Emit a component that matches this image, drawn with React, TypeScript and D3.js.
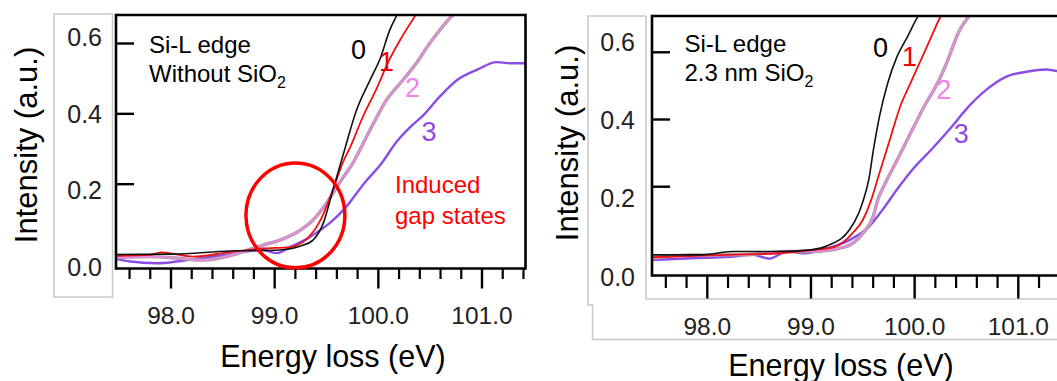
import React from 'react';
import * as d3 from 'd3';

const W = 1057;
const H = 381;

// ---------- Data: left panel (Without SiO2) ----------
const L0_E = [97.47, 98.0, 98.57, 99.05, 99.25, 99.37, 99.47, 99.56, 99.66, 99.79, 99.92, 100.02, 100.11, 100.18, 100.25];
const L0_I = [0.0, 0.001, 0.01, 0.013, 0.024, 0.041, 0.09, 0.181, 0.283, 0.411, 0.496, 0.559, 0.638, 0.681, 0.72];
const L1_E = [97.47, 97.8, 97.91, 98.04, 98.21, 98.57, 98.89, 99.15, 99.37, 99.47, 99.56, 99.66, 99.73, 99.85, 99.99, 100.09, 100.21, 100.31, 100.36, 100.42];
const L1_I = [-0.004, -0.001, 0.006, 0.001, -0.006, 0.007, 0.017, 0.021, 0.064, 0.115, 0.183, 0.263, 0.306, 0.391, 0.476, 0.544, 0.61, 0.658, 0.681, 0.71];
const L2_E = [97.47, 97.8, 98.04, 98.31, 98.61, 98.89, 99.05, 99.22, 99.37, 99.5, 99.63, 99.76, 99.92, 100.08, 100.24, 100.37, 100.47, 100.57, 100.72, 100.8];
const L2_I = [-0.009, -0.006, -0.01, -0.016, 0.0, 0.027, 0.041, 0.064, 0.098, 0.146, 0.206, 0.263, 0.354, 0.44, 0.497, 0.545, 0.59, 0.63, 0.681, 0.7];
const L3_E = [97.47, 97.61, 97.86, 98.21, 98.61, 98.89, 99.02, 99.14, 99.34, 99.53, 99.68, 99.87, 100.02, 100.18, 100.31, 100.43, 100.59, 100.76, 100.95, 101.14, 101.27, 101.43];
const L3_I = [-0.013, -0.02, -0.025, -0.014, 0.003, 0.013, 0.004, 0.02, 0.05, 0.089, 0.132, 0.205, 0.255, 0.322, 0.363, 0.395, 0.448, 0.496, 0.525, 0.547, 0.544, 0.544];

// ---------- Data: right panel (2.3 nm SiO2) ----------
const R0_E = [97.47, 97.94, 98.24, 98.67, 99.0, 99.17, 99.37, 99.46, 99.51, 99.56, 99.6, 99.66, 99.74, 99.83, 99.93, 100.03, 100.08];
const R0_I = [-0.003, -0.003, 0.007, 0.007, 0.012, 0.026, 0.071, 0.121, 0.165, 0.225, 0.305, 0.408, 0.508, 0.587, 0.646, 0.706, 0.73];
const R1_E = [97.47, 98.18, 98.7, 99.03, 99.23, 99.4, 99.5, 99.58, 99.66, 99.76, 99.86, 99.96, 100.06, 100.16, 100.25, 100.3];
const R1_I = [-0.01, -0.003, 0.002, 0.012, 0.021, 0.061, 0.101, 0.16, 0.24, 0.339, 0.438, 0.508, 0.577, 0.646, 0.706, 0.73];
const R2_E = [97.47, 97.84, 98.32, 98.77, 99.0, 99.33, 99.5, 99.6, 99.65, 99.7, 99.83, 99.96, 100.09, 100.22, 100.32, 100.42, 100.52, 100.58];
const R2_I = [-0.013, -0.003, -0.003, 0.007, 0.007, 0.021, 0.061, 0.111, 0.166, 0.2, 0.279, 0.359, 0.438, 0.508, 0.577, 0.657, 0.706, 0.73];
const R3_E = [97.47, 97.84, 98.22, 98.44, 98.6, 98.77, 98.93, 99.16, 99.37, 99.56, 99.69, 99.84, 99.99, 100.16, 100.36, 100.49, 100.69, 100.88, 101.08, 101.27, 101.4];
const R3_I = [-0.018, -0.013, -0.009, -0.003, -0.014, 0.007, 0.002, 0.017, 0.041, 0.081, 0.131, 0.196, 0.255, 0.31, 0.379, 0.428, 0.488, 0.527, 0.542, 0.549, 0.542];

// ---------- Ticks ----------
const Y_TICKS = [0.2, 0.4, 0.6];
const Y_LABELS = [0.0, 0.2, 0.4, 0.6];
const X_MAJOR = [98.0, 99.0, 100.0, 101.0];
const X_MINOR = [97.6, 97.8, 98.2, 98.4, 98.6, 98.8, 99.2, 99.4, 99.6, 99.8, 100.2, 100.4, 100.6, 100.8, 101.2, 101.4];

const SERIES_NAMES = ['0', '1', '2', '3'];
// label anchor (energy, intensity) for curve numbers
const L_LABEL_E = [99.81, 100.08, 100.33, 100.49];
const L_LABEL_I = [0.582, 0.548, 0.474, 0.349];
const R_LABEL_E = [99.67, 99.95, 100.28, 100.45];
const R_LABEL_I = [0.612, 0.587, 0.487, 0.358];

const COLORS = ['#111111', '#ee1111', '#f08ae4', '#8a4de6'];
const LABEL_COLORS = ['#000000', '#ee0000', '#f57ff0', '#9048e8'];

// induced gap states circle (data units)
const CIRCLE_E = 99.2;
const CIRCLE_I = 0.111;
const CIRCLE_RE = 0.477;
const CIRCLE_RI = 0.149;

const FONT = "'Liberation Sans', Arial, sans-serif";

type Series = { e: number[]; i: number[] };

const LEFT: Series[] = [
  { e: L0_E, i: L0_I },
  { e: L1_E, i: L1_I },
  { e: L2_E, i: L2_I },
  { e: L3_E, i: L3_I },
];
const RIGHT: Series[] = [
  { e: R0_E, i: R0_I },
  { e: R1_E, i: R1_I },
  { e: R2_E, i: R2_I },
  { e: R3_E, i: R3_I },
];

type PanelProps = {
  id: string;
  series: Series[];
  frame: { x0: number; x1: number; y0: number; y1: number; clipRight: number };
  xRange: [number, number];
  yDomain: [number, number];
  yRange: [number, number];
  labelRange: [number, number];
  labelRightX: number;
  minorLen: number;
  majorLen: number;
  tickLabelY: number;
  titleX: number;
  titleY: number;
  ylabX: number;
  ylabY: number;
  noteX: number;
  noteY: number;
  noteLine2: string;
  labE: number[];
  labI: number[];
  drawRightFrame: boolean;
};

function Panel(p: PanelProps) {
  const x = d3.scaleLinear().domain([98, 101]).range(p.xRange);
  const y = d3.scaleLinear().domain(p.yDomain).range(p.yRange);
  const yl = d3.scaleLinear().domain([0, 0.6]).range(p.labelRange);
  const fmt = d3.format('.1f');
  const line = d3.line<number>().curve(d3.curveMonotoneX);
  const { x0, x1, y0, y1, clipRight } = p.frame;
  const paths = p.series.map(
    (s) => line.x((_, k) => x(s.e[k])).y((_, k) => y(s.i[k]))(s.e) || ''
  );
  return (
    <g>
      <defs>
        <clipPath id={p.id}>
          <rect x={x0} y={y0} width={clipRight - x0} height={y1 - y0} />
        </clipPath>
      </defs>
      <g clipPath={`url(#${p.id})`}>
        {[3, 2, 1, 0].map((k) => (
          <g key={k}>
            {k === 2 && (
              <path d={paths[k]} fill="none" stroke="#a99aa6" strokeWidth={3.4} />
            )}
            <path
              d={paths[k]}
              fill="none"
              stroke={COLORS[k]}
              strokeWidth={k === 0 ? 1.6 : k === 1 ? 1.8 : k === 2 ? 1.6 : 2.4}
            />
          </g>
        ))}
      </g>
      {/* frame */}
      <line x1={x0} x2={x0} y1={y0 - 1.2} y2={y1 + 1.2} stroke="#000" strokeWidth={2.6} />
      <line x1={x0} x2={p.drawRightFrame ? x1 : W} y1={y0} y2={y0} stroke="#000" strokeWidth={2.6} />
      <line x1={x0} x2={p.drawRightFrame ? x1 : W} y1={y1} y2={y1} stroke="#000" strokeWidth={2.6} />
      {p.drawRightFrame && (
        <line x1={x1} x2={x1} y1={y0 - 1.2} y2={y1 + 1.2} stroke="#000" strokeWidth={2.6} />
      )}
      {/* y ticks */}
      {Y_TICKS.map((t) => (
        <line key={t} x1={x0} x2={x0 + 18} y1={y(t)} y2={y(t)} stroke="#000" strokeWidth={2.4} />
      ))}
      {Y_LABELS.map((t) => (
        <text
          key={t}
          x={p.labelRightX}
          y={yl(t)}
          textAnchor="end"
          dominantBaseline="central"
          fontSize={25}
          fontFamily={FONT}
          fill="#222"
        >
          {fmt(t)}
        </text>
      ))}
      {/* x ticks */}
      {X_MINOR.map((t) => (
        <line key={t} x1={x(t)} x2={x(t)} y1={y1} y2={y1 + p.minorLen} stroke="#000" strokeWidth={2.2} />
      ))}
      {X_MAJOR.map((t) => (
        <line key={t} x1={x(t)} x2={x(t)} y1={y1} y2={y1 + p.majorLen} stroke="#000" strokeWidth={2.4} />
      ))}
      {X_MAJOR.map((t) => (
        <text
          key={'l' + t}
          x={x(t)}
          y={p.tickLabelY}
          textAnchor="middle"
          dominantBaseline="central"
          fontSize={24.5}
          fontFamily={FONT}
          fill="#222"
        >
          {fmt(t)}
        </text>
      ))}
      {/* titles */}
      <text x={p.titleX} y={p.titleY} textAnchor="middle" fontSize={30.5} fontFamily={FONT} fill="#000">
        Energy loss (eV)
      </text>
      <text
        transform={`translate(${p.ylabX},${p.ylabY}) rotate(-90)`}
        textAnchor="middle"
        dominantBaseline="central"
        fontSize={31}
        fontFamily={FONT}
        fill="#000"
      >
        Intensity (a.u.)
      </text>
      {/* note */}
      <text x={p.noteX} y={p.noteY} fontSize={24} fontFamily={FONT} fill="#000">
        Si-L edge
      </text>
      <text x={p.noteX} y={p.noteY + 29} fontSize={24} fontFamily={FONT} fill="#000">
        {p.noteLine2}SiO
        <tspan fontSize={16} dy={6}>2</tspan>
      </text>
      {/* series labels */}
      {SERIES_NAMES.map((n, k) => (
        <text
          key={n}
          x={x(p.labE[k])}
          y={y(p.labI[k])}
          textAnchor="middle"
          dominantBaseline="central"
          fontSize={27}
          fontFamily={FONT}
          fill={LABEL_COLORS[k]}
        >
          {n}
        </text>
      ))}
    </g>
  );
}

export default function App() {
  const lx = d3.scaleLinear().domain([98, 101]).range([171, 482]);
  const ly = d3.scaleLinear().domain([0, 0.6]).range([254.5, 43.5]);
  const grey = '#c9c9c9';
  return (
    <svg
      width={W}
      height={H}
      viewBox={`0 0 ${W} ${H}`}
      style={{ position: 'absolute', left: 0, top: 0, display: 'block', background: '#fff' }}
    >
      <rect x={0} y={0} width={W} height={H} fill="#fff" />
      <rect x={54} y={14} width={58.5} height={283} fill="none" stroke={grey} strokeWidth={1.5} />
      <path
        d={`M646,16 L588,16 L588,305 L592.5,305 L592.5,339.5 L${W},339.5`}
        fill="none"
        stroke={grey}
        strokeWidth={1.5}
      />
      <path d={`M646,16 L646,299 L${W},299`} fill="none" stroke={grey} strokeWidth={1.5} />

      <Panel
        id="clipL"
        series={LEFT}
        frame={{ x0: 116, x1: 525.5, y0: 15, y1: 268.5, clipRight: 525.5 }}
        xRange={[171, 482]}
        yDomain={[0, 0.6]}
        yRange={[254.5, 43.5]}
        labelRange={[267, 37]}
        labelRightX={102}
        minorLen={10.5}
        majorLen={20}
        tickLabelY={315}
        titleX={333}
        titleY={367}
        ylabX={26}
        ylabY={145}
        noteX={149}
        noteY={52.7}
        noteLine2="Without "
        labE={L_LABEL_E}
        labI={L_LABEL_I}
        drawRightFrame={true}
      />
      <Panel
        id="clipR"
        series={RIGHT}
        frame={{ x0: 652, x1: W, y0: 16, y1: 275.5, clipRight: W }}
        xRange={[707.3, 1018.3]}
        yDomain={[0, 0.6]}
        yRange={[253.9, 52.3]}
        labelRange={[276.7, 41.7]}
        labelRightX={635}
        minorLen={12.5}
        majorLen={23}
        tickLabelY={326.7}
        titleX={841}
        titleY={376}
        ylabX={567}
        ylabY={143}
        noteX={684.4}
        noteY={51.7}
        noteLine2="2.3 nm "
        labE={R_LABEL_E}
        labI={R_LABEL_I}
        drawRightFrame={false}
      />
      <ellipse
        cx={lx(CIRCLE_E)}
        cy={ly(CIRCLE_I)}
        rx={lx(CIRCLE_E + CIRCLE_RE) - lx(CIRCLE_E)}
        ry={ly(CIRCLE_I) - ly(CIRCLE_I + CIRCLE_RI)}
        fill="none"
        stroke="#ff0000"
        strokeWidth={3.5}
      />
      <text x={395} y={193} fontSize={24} fontFamily={FONT} fill="#ff0000">
        Induced
      </text>
      <text x={395} y={224} fontSize={24} fontFamily={FONT} fill="#ff0000">
        gap states
      </text>
    </svg>
  );
}
